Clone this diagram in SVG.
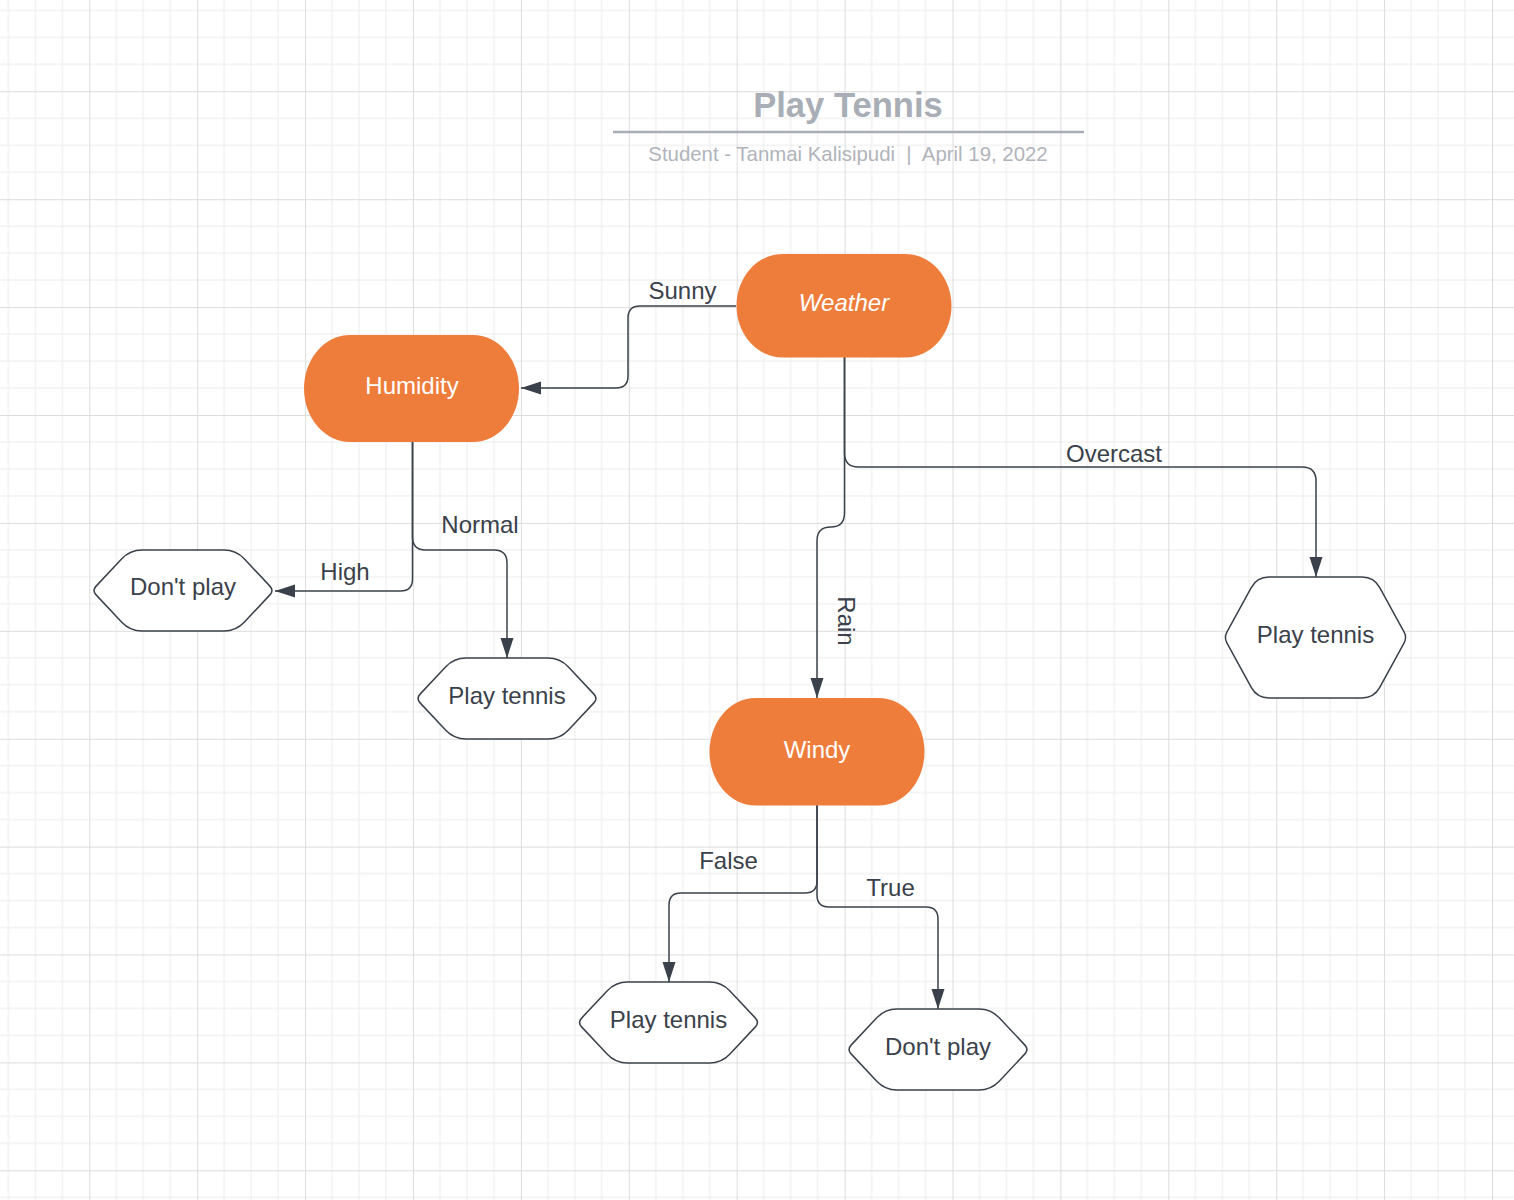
<svg xmlns="http://www.w3.org/2000/svg" xmlns:xlink="http://www.w3.org/1999/xlink" width="1514" height="1200" viewBox="0 0 1514 1200">
<style>
.title{font-family:"Liberation Sans",Arial,sans-serif;font-weight:bold;font-size:34.6px;fill:#a9adb5}
.sub{font-family:"Liberation Sans",Arial,sans-serif;font-size:20.4px;fill:#b0b4ba}
.lbl{font-family:"Liberation Sans",Arial,sans-serif;font-size:24px;fill:#3a414a}
.ntxt{font-family:"Liberation Sans",Arial,sans-serif;font-size:24px;fill:#ffffff}
.htxt{font-family:"Liberation Sans",Arial,sans-serif;font-size:24px;fill:#3a414a}
.term{fill:#ee7d3b;stroke:none}
.hex{fill:#ffffff;stroke:#3a414a;stroke-width:1.5}
.conn{fill:none;stroke:#3a414a;stroke-width:1.5}
.gmin{stroke:#ececec;stroke-width:1}
.gmaj{stroke:#dcdcdc;stroke-width:1}
</style>
<defs>
<pattern id="grid" patternUnits="userSpaceOnUse" x="89.3" y="91.3" width="107.9" height="107.9">
<line class="gmin" x1="26.975" y1="0" x2="26.975" y2="107.9"/>
<line class="gmin" x1="53.95" y1="0" x2="53.95" y2="107.9"/>
<line class="gmin" x1="80.925" y1="0" x2="80.925" y2="107.9"/>
<line class="gmin" x1="0" y1="26.975" x2="107.9" y2="26.975"/>
<line class="gmin" x1="0" y1="53.95" x2="107.9" y2="53.95"/>
<line class="gmin" x1="0" y1="80.925" x2="107.9" y2="80.925"/>
<line class="gmaj" x1="0.5" y1="0" x2="0.5" y2="107.9"/>
<line class="gmaj" x1="0" y1="0.5" x2="107.9" y2="0.5"/>
</pattern>
<marker id="arr" markerUnits="userSpaceOnUse" markerWidth="20" markerHeight="14" refX="20" refY="6.5" orient="auto">
<path d="M0,0 L20,6.5 L0,13 Z" fill="#3a414a"/>
</marker>
<path id="hexS" class="hex" d="M50,0 H132 Q144,0 152.21,8.75 L177.9,36.13 Q182,40.5 177.9,44.87 L152.21,72.25 Q144,81 132,81 H50 Q38,81 29.79,72.25 L4.1,44.87 Q0,40.5 4.1,36.13 L29.79,8.75 Q38,0 50,0 Z"/>
<path id="hexT" class="hex" d="M45,0 H138 Q150,0 155.75,10.54 L180.13,55.23 Q183,60.5 180.13,65.77 L155.75,110.46 Q150,121 138,121 H45 Q33,121 27.25,110.46 L2.87,65.77 Q0,60.5 2.87,55.23 L27.25,10.54 Q33,0 45,0 Z"/>
</defs>
<rect x="0" y="0" width="1514" height="1200" fill="#ffffff"/>
<rect x="0" y="0" width="1514" height="1200" fill="url(#grid)"/>

<g id="title">
<text class="title" x="848" y="117" text-anchor="middle">Play Tennis</text>
<line x1="613" y1="132" x2="1084" y2="132" stroke="#a9adb5" stroke-width="2.5"/>
<text class="sub" x="848" y="160.5" text-anchor="middle" xml:space="preserve">Student - Tanmai Kalisipudi  |  April 19, 2022</text>
</g>

<g id="connectors">
<path class="conn" d="M736,306 H640 Q628,306 628,318 V376 Q628,388 616,388 H521" marker-end="url(#arr)"/>
<path class="conn" d="M412.5,442 V579 Q412.5,591 400.5,591 H275" marker-end="url(#arr)"/>
<path class="conn" d="M412.5,442 V537 Q412.5,550 425.5,550 H494 Q507,550 507,563 V658" marker-end="url(#arr)"/>
<path class="conn" d="M844.5,357 V453 Q844.5,467 858.5,467 H1302 Q1316,467 1316,481 V577" marker-end="url(#arr)"/>
<path class="conn" d="M844.5,357 V513 Q844.5,527 830.75,527 Q817,527 817,540.75 V698" marker-end="url(#arr)"/>
<path class="conn" d="M817,805 V881 Q817,893 805,893 H681 Q669,893 669,905 V982" marker-end="url(#arr)"/>
<path class="conn" d="M817,805 V895 Q817,907 829,907 H926 Q938,907 938,919 V1009" marker-end="url(#arr)"/>
<text class="lbl" x="682.5" y="299" text-anchor="middle">Sunny</text>
<text class="lbl" x="345" y="580" text-anchor="middle">High</text>
<text class="lbl" x="480" y="532.5" text-anchor="middle">Normal</text>
<text class="lbl" x="1114" y="462" text-anchor="middle">Overcast</text>
<text class="lbl" transform="translate(838,621) rotate(90)" text-anchor="middle">Rain</text>
<text class="lbl" x="728.5" y="869" text-anchor="middle">False</text>
<text class="lbl" x="890.5" y="895.5" text-anchor="middle">True</text>
</g>

<g id="node-weather">
<rect class="term" x="736.5" y="254" width="215" height="103.5" rx="46" ry="51.75"/>
<text class="ntxt" x="844" y="311" text-anchor="middle" font-style="italic">Weather</text>
</g>
<g id="node-humidity">
<rect class="term" x="304" y="335" width="215" height="107" rx="46" ry="53.5"/>
<text class="ntxt" x="412" y="393.5" text-anchor="middle">Humidity</text>
</g>
<g id="node-windy">
<rect class="term" x="709.5" y="698" width="215" height="107.5" rx="46" ry="53.75"/>
<text class="ntxt" x="817" y="757.5" text-anchor="middle">Windy</text>
</g>
<g id="node-dontplay-1">
<use xlink:href="#hexS" href="#hexS" x="92" y="550"/>
<text class="htxt" x="183" y="595" text-anchor="middle">Don't play</text>
</g>
<g id="node-playtennis-1">
<use xlink:href="#hexS" href="#hexS" x="416" y="658"/>
<text class="htxt" x="507" y="703.5" text-anchor="middle">Play tennis</text>
</g>
<g id="node-playtennis-2">
<use xlink:href="#hexT" href="#hexT" x="1224" y="577"/>
<text class="htxt" x="1315.5" y="642.5" text-anchor="middle">Play tennis</text>
</g>
<g id="node-playtennis-3">
<use xlink:href="#hexS" href="#hexS" x="577.5" y="982"/>
<text class="htxt" x="668.5" y="1027.5" text-anchor="middle">Play tennis</text>
</g>
<g id="node-dontplay-2">
<use xlink:href="#hexS" href="#hexS" x="847" y="1009"/>
<text class="htxt" x="938" y="1054.5" text-anchor="middle">Don't play</text>
</g>
</svg>
